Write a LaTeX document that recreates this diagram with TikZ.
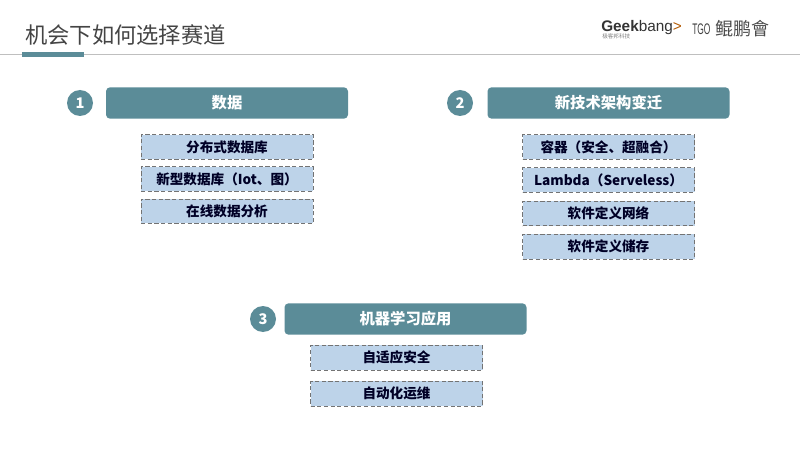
\documentclass[tikz,border=0pt]{standalone}
\usepackage{xcolor}
\usepackage{fontspec}
\setmainfont{Noto Sans CJK SC}
\newfontfamily\logofont{Liberation Sans}
\usetikzlibrary{positioning}
\definecolor{tealbar}{HTML}{5B8C98}
\definecolor{boxblue}{HTML}{BDD3E9}
\definecolor{titlegray}{HTML}{444444}
\tikzstyle{header} = [rectangle, rounded corners=3pt, fill=tealbar, text=white, font=\bfseries\fontsize{11.5}{13}\selectfont, minimum width=181.5pt, minimum height=23.5pt, inner sep=0pt]
\tikzstyle{badge} = [circle, fill=tealbar, text=white, font=\bfseries\fontsize{11}{12}\selectfont, minimum size=19.5pt, inner sep=0pt]
\tikzstyle{item} = [rectangle, draw=black!55, dashed, dash pattern=on 3.2pt off 1.8pt, fill=boxblue, text=black!85!blue, font=\bfseries\fontsize{10.2}{12}\selectfont, minimum width=129pt, minimum height=18.5pt, inner sep=0pt]

\begin{document}
\begin{tikzpicture}[x=0.75pt, y=-0.75pt]
	\useasboundingbox (0,0) rectangle (800,449);

	% Title and rule
	\draw[black!25, line width=0.8pt] (0,54.5) -- (800,54.5);
	\fill[tealbar] (22,52) rectangle (84,57);
	\node[anchor=west, inner sep=0pt, text=titlegray, font=\fontsize{16.7}{20}\selectfont] (title) at (25,35) {机会下如何选择赛道};

	% Logos
	\node[anchor=west, inner sep=0pt, text=black!80, font=\logofont\fontsize{11.5}{13}\selectfont] (geek) at (601,27.5) {\textbf{Geek}bang\textcolor{orange!70!black}{>}};
	\node[anchor=north west, inner sep=0pt, text=black!50, font=\fontsize{4.2}{5}\selectfont] (geekcn) at (602,33) {极客邦科技};
	\node[anchor=west, inner sep=0pt, text=black!75, font=\logofont\fontsize{11.5}{13}\selectfont] (tgo) at (692,29) {\scalebox{0.55}[1]{TGO}};
	\node[anchor=west, inner sep=0pt, text=black!70, font=\fontsize{13.5}{15}\selectfont] (kunpeng) at (715,29) {鲲鹏會};

	% Group 1
	\node[header] (h1) at (227,103) {数据};
	\node[badge] (b1) at (80,103) {1};
	\node[item, below=11.5pt of h1] (a1) {分布式数据库};
	\node[item, below=5.2pt of a1] (a2) {新型数据库（Iot、图）};
	\node[item, below=5.2pt of a2] (a3) {在线数据分析};

	% Group 2
	\node[header] (h2) at (608.5,103) {新技术架构变迁};
	\node[badge] (b2) at (460,103) {2};
	\node[item, below=11.5pt of h2] (c1) {容器（安全、超融合）};
	\node[item, below=6pt of c1] (c2) {Lambda（Serveless）};
	\node[item, below=6pt of c2] (c3) {软件定义网络};
	\node[item, below=6pt of c3] (c4) {软件定义储存};

	% Group 3
	\node[header] (h3) at (405.5,319) {机器学习应用};
	\node[badge] (b3) at (263,319) {3};
	\node[item, below=7.5pt of h3, xshift=-6.75pt] (d1) {自适应安全};
	\node[item, below=8.2pt of d1] (d2) {自动化运维};

\end{tikzpicture}
\end{document}
